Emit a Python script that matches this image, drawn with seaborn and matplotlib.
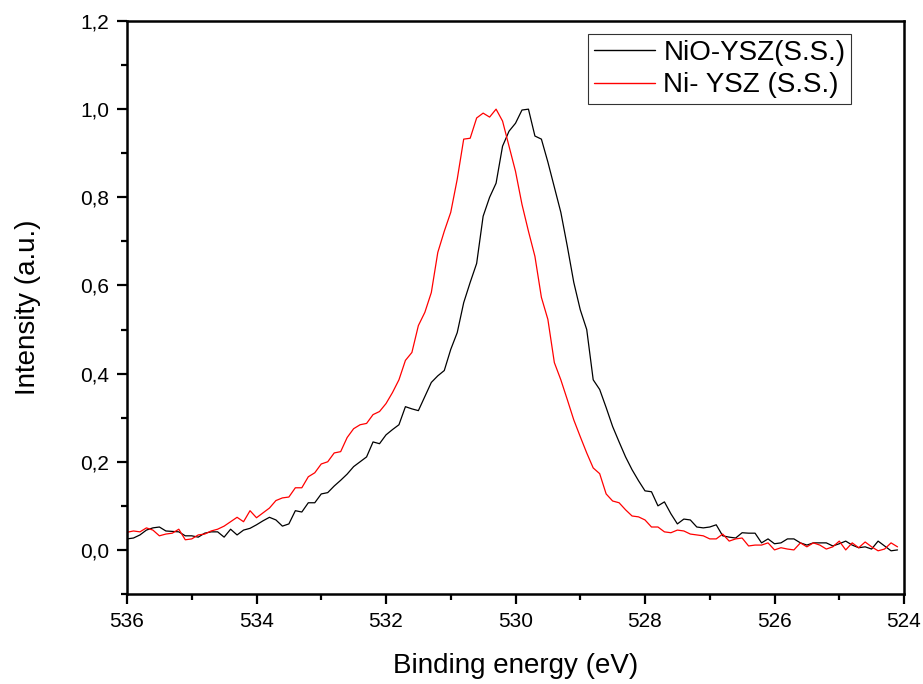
import numpy as np
import pandas as pd
import matplotlib
matplotlib.use("Agg")
import matplotlib.pyplot as plt
from matplotlib.ticker import MultipleLocator
import seaborn as sns

energy = [536.0, 535.9, 535.8, 535.7, 535.6, 535.5, 535.4, 535.3, 535.2, 535.1,
          535.0, 534.9, 534.8, 534.7, 534.6, 534.5, 534.4, 534.3, 534.2, 534.1,
          534.0, 533.9, 533.8, 533.7, 533.6, 533.5, 533.4, 533.3, 533.2, 533.1,
          533.0, 532.9, 532.8, 532.7, 532.6, 532.5, 532.4, 532.3, 532.2, 532.1,
          532.0, 531.9, 531.8, 531.7, 531.6, 531.5, 531.4, 531.3, 531.2, 531.1,
          531.0, 530.9, 530.8, 530.7, 530.6, 530.5, 530.4, 530.3, 530.2, 530.1,
          530.0, 529.9, 529.8, 529.7, 529.6, 529.5, 529.4, 529.3, 529.2, 529.1,
          529.0, 528.9, 528.8, 528.7, 528.6, 528.5, 528.4, 528.3, 528.2, 528.1,
          528.0, 527.9, 527.8, 527.7, 527.6, 527.5, 527.4, 527.3, 527.2, 527.1,
          527.0, 526.9, 526.8, 526.7, 526.6, 526.5, 526.4, 526.3, 526.2, 526.1,
          526.0, 525.9, 525.8, 525.7, 525.6, 525.5, 525.4, 525.3, 525.2, 525.1,
          525.0, 524.9, 524.8, 524.7, 524.6, 524.5, 524.4, 524.3, 524.2, 524.1]

nio_ysz = [0.025, 0.027, 0.034, 0.045, 0.050, 0.052, 0.043, 0.042, 0.041, 0.032,
           0.032, 0.029, 0.038, 0.041, 0.041, 0.029, 0.047, 0.034, 0.045, 0.049,
           0.057, 0.066, 0.074, 0.068, 0.054, 0.059, 0.089, 0.086, 0.107, 0.107,
           0.127, 0.130, 0.145, 0.158, 0.172, 0.189, 0.200, 0.211, 0.245, 0.241,
           0.261, 0.273, 0.284, 0.325, 0.320, 0.316, 0.348, 0.380, 0.395, 0.407,
           0.455, 0.493, 0.561, 0.607, 0.650, 0.757, 0.800, 0.832, 0.916, 0.950,
           0.968, 0.998, 1.000, 0.939, 0.932, 0.880, 0.823, 0.766, 0.689, 0.607,
           0.545, 0.500, 0.386, 0.364, 0.323, 0.280, 0.245, 0.211, 0.182, 0.157,
           0.134, 0.132, 0.100, 0.109, 0.082, 0.059, 0.070, 0.068, 0.052, 0.050,
           0.052, 0.057, 0.032, 0.029, 0.027, 0.039, 0.038, 0.038, 0.016, 0.025,
           0.014, 0.016, 0.025, 0.025, 0.016, 0.011, 0.016, 0.016, 0.016, 0.009,
           0.014, 0.020, 0.011, 0.005, 0.007, 0.002, 0.020, 0.009, -0.002, 0.000]

ni_ysz = [0.040, 0.043, 0.041, 0.050, 0.045, 0.032, 0.036, 0.038, 0.047, 0.023,
          0.025, 0.034, 0.036, 0.043, 0.047, 0.054, 0.064, 0.074, 0.064, 0.089,
          0.073, 0.084, 0.095, 0.112, 0.118, 0.120, 0.141, 0.141, 0.166, 0.175,
          0.195, 0.200, 0.220, 0.223, 0.255, 0.275, 0.284, 0.287, 0.307, 0.314,
          0.332, 0.357, 0.386, 0.430, 0.448, 0.509, 0.539, 0.584, 0.675, 0.723,
          0.766, 0.841, 0.932, 0.934, 0.980, 0.991, 0.982, 1.000, 0.973, 0.916,
          0.859, 0.784, 0.723, 0.666, 0.573, 0.523, 0.425, 0.386, 0.341, 0.295,
          0.257, 0.220, 0.186, 0.173, 0.127, 0.111, 0.107, 0.091, 0.077, 0.075,
          0.068, 0.052, 0.052, 0.041, 0.039, 0.045, 0.043, 0.036, 0.034, 0.032,
          0.025, 0.025, 0.036, 0.020, 0.025, 0.027, 0.009, 0.011, 0.011, 0.016,
          0.000, 0.005, 0.002, 0.000, 0.016, 0.007, 0.016, 0.011, 0.002, 0.007,
          0.020, 0.000, 0.016, 0.005, 0.018, 0.007, -0.002, 0.002, 0.016, 0.007]

series_names = ["NiO-YSZ(S.S.)", "Ni- YSZ (S.S.)"]
series_colors = ["black", "red"]

x_ticks = [536, 534, 532, 530, 528, 526, 524]
x_ticklabels = ["536", "534", "532", "530", "528", "526", "524"]
y_ticks = [0.0, 0.2, 0.4, 0.6, 0.8, 1.0, 1.2]
y_ticklabels = ["0,0", "0,2", "0,4", "0,6", "0,8", "1,0", "1,2"]

df = pd.DataFrame({
    "Binding energy (eV)": energy * 2,
    "Intensity": nio_ysz + ni_ysz,
    "Sample": [series_names[0]] * len(energy) + [series_names[1]] * len(energy),
})

sns.set_style("ticks")
plt.rcParams["font.family"] = ["Liberation Sans", "DejaVu Sans"]
plt.rcParams["text.color"] = "black"
plt.rcParams["axes.labelcolor"] = "black"

fig = plt.figure(figsize=(9.23, 6.84), dpi=100)
ax = fig.add_axes([127 / 923, 1 - 594 / 684, 777 / 923, 573 / 684])

sns.lineplot(data=df, x="Binding energy (eV)", y="Intensity", hue="Sample",
             palette=dict(zip(series_names, series_colors)), estimator=None,
             sort=False, linewidth=0.9, ax=ax)

ax.set_xlim(536, 524)
ax.set_ylim(-0.1, 1.2)
ax.set_xticks(x_ticks)
ax.set_xticklabels(x_ticklabels)
ax.set_yticks(y_ticks)
ax.set_yticklabels(y_ticklabels)
ax.xaxis.set_minor_locator(MultipleLocator(1))
ax.yaxis.set_minor_locator(MultipleLocator(0.1))
ax.tick_params(which="major", direction="out", length=7, width=1.6,
               labelsize=15, colors="black", pad=6)
ax.tick_params(which="minor", direction="out", length=4, width=1.6, colors="black")
ax.tick_params(top=False, right=False)
for s in ax.spines.values():
    s.set_linewidth(1.8)
    s.set_color("black")

ax.set_xlabel("Binding energy (eV)", fontsize=20, labelpad=16, color="black")
ax.set_ylabel("Intensity (a.u.)", fontsize=20, labelpad=28, color="black")

leg = ax.legend(loc="upper right", bbox_to_anchor=((851 - 127) / 777, (594 - 34) / 573),
                borderaxespad=0, fontsize=20, frameon=True, fancybox=False,
                handlelength=2.2, handletextpad=0.3, borderpad=0.2,
                labelspacing=0.25)
leg.get_frame().set_edgecolor("black")
leg.get_frame().set_linewidth(0.8)
for line in leg.get_lines():
    line.set_linewidth(1.0)
for t in leg.get_texts():
    t.set_color("black")

fig.savefig("out.png", dpi=100)
